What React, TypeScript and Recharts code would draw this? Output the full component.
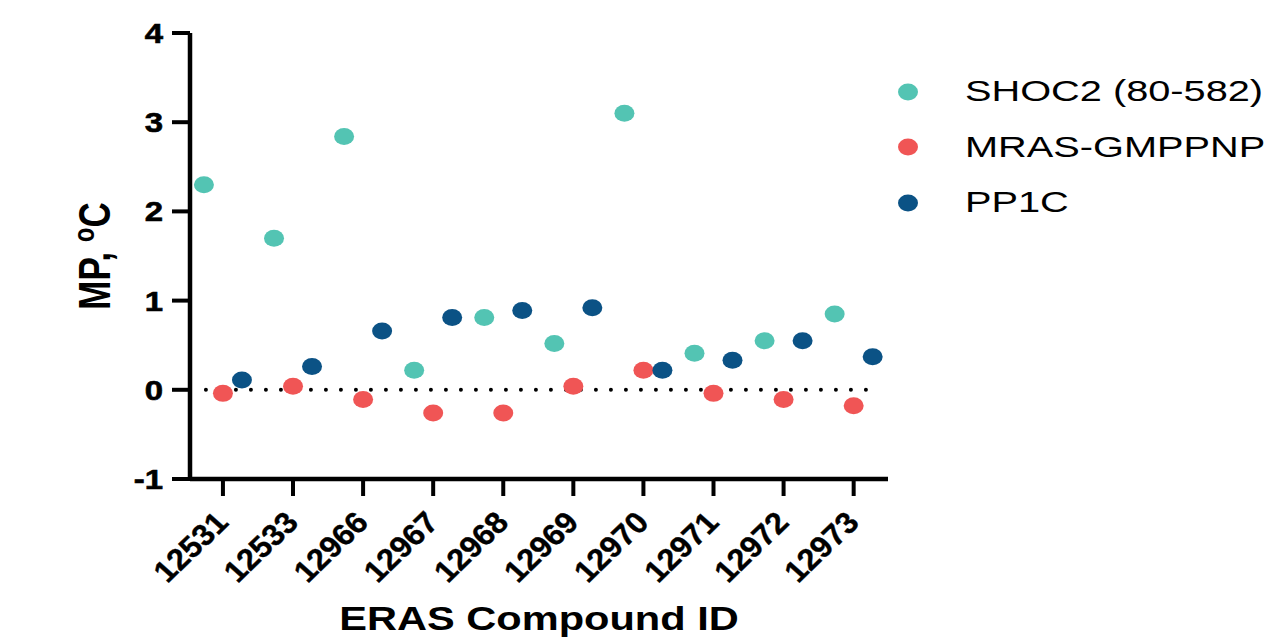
import { ScatterChart, Scatter, XAxis, YAxis, ReferenceLine } from 'recharts';

const compounds = ['12531', '12533', '12966', '12967', '12968', '12969', '12970', '12971', '12972', '12973'];
const seriesNames = ['SHOC2 (80-582)', 'MRAS-GMPPNP', 'PP1C'];
const seriesColors = ['#53C4B3', '#F05555', '#0B5285'];
const shoc2 = [2.3, 1.7, 2.84, 0.22, 0.81, 0.52, 3.1, 0.41, 0.55, 0.85];
const mras = [-0.04, 0.04, -0.11, -0.26, -0.26, 0.04, 0.22, -0.04, -0.11, -0.18];
const pp1c = [0.11, 0.26, 0.66, 0.81, 0.89, 0.92, 0.22, 0.33, 0.55, 0.37];
const yTicks = [-1, 0, 1, 2, 3, 4];

const FONT = '"Liberation Sans", Arial, sans-serif';

const toPoints = (vals: number[]) => vals.map((v, i) => ({ x: i, y: v }));

// dodge the three series sideways inside each compound slot
const dot = (dx: number) => (props: any) => (
  <ellipse cx={props.cx + dx} cy={props.cy} rx={10} ry={8.5} fill={props.fill} />
);

const YTick = ({ x, y, payload }: any) => (
  <text
    transform={`translate(${x},${y}) scale(1.22,1)`}
    textAnchor="end"
    dy={10}
    fontFamily={FONT}
    fontWeight="bold"
    fontSize={27}
    fill="#000"
    stroke="#000"
    strokeWidth={0.6}
  >
    {payload.value}
  </text>
);

const XTick = ({ x, y, payload }: any) => (
  <text
    transform={`translate(${x + 7},${y + 26}) scale(1.08,1) rotate(-46)`}
    textAnchor="end"
    fontFamily={FONT}
    fontWeight="bold"
    fontSize={30}
    fill="#000"
    stroke="#000"
    strokeWidth={0.4}
  >
    {compounds[payload.value]}
  </text>
);

function LegendBox() {
  return (
    <div style={{ position: 'absolute', left: 895, top: 64 }}>
      {seriesNames.map((name, i) => (
        <div key={name} style={{ display: 'flex', alignItems: 'center', height: 55.5 }}>
          <svg width={22} height={18} style={{ marginLeft: 2 }}>
            <ellipse cx={11} cy={9} rx={10} ry={8.5} fill={seriesColors[i]} />
          </svg>
          <span
            style={{
              marginLeft: 46,
              fontFamily: FONT,
              fontSize: 29,
              color: '#000',
              whiteSpace: 'nowrap',
              display: 'inline-block',
              transform: 'scaleX(1.37)',
              transformOrigin: 'left center',
            }}
          >
            {name}
          </span>
        </div>
      ))}
    </div>
  );
}

export default function App() {
  return (
    <div style={{ position: 'absolute', left: 0, top: 0, width: 1279, height: 638, background: '#fff', overflow: 'hidden' }}>
      <ScatterChart width={1279} height={638} margin={{ top: 33, right: 391, bottom: 0, left: 0 }}>
        <XAxis
          type="number"
          dataKey="x"
          domain={[-0.47, 9.49]}
          ticks={compounds.map((_, i) => i)}
          interval={0}
          height={159}
          axisLine={{ stroke: '#000', strokeWidth: 4.5 }}
          tickLine={{ stroke: '#000', strokeWidth: 4 }}
          tickSize={17}
          tick={<XTick />}
          label={{
            content: () => (
              <text
                transform="translate(539,630) scale(1.26,1)"
                textAnchor="middle"
                fontFamily={FONT}
                fontWeight="bold"
                fontSize={33}
                fill="#000"
              >
                ERAS Compound ID
              </text>
            ),
          }}
        />
        <YAxis
          type="number"
          dataKey="y"
          domain={[-1, 4]}
          ticks={yTicks}
          width={190}
          axisLine={{ stroke: '#000', strokeWidth: 4.5 }}
          tickLine={{ stroke: '#000', strokeWidth: 4 }}
          tickSize={18}
          tickMargin={9}
          tick={<YTick />}
          label={{
            content: () => (
              <text
                transform="translate(110,256) scale(1.25,1) rotate(-90)"
                textAnchor="middle"
                fontFamily={FONT}
                fontWeight="bold"
                fontSize={35}
                fill="#000"
              >
                <tspan>MP, </tspan>
                <tspan fontSize={24} dy={-13}>o</tspan>
                <tspan dy={13}>C</tspan>
              </text>
            ),
          }}
        />
        <ReferenceLine
          segment={[{ x: -0.243, y: 0 }, { x: 9.36, y: 0 }]}
          stroke="#000"
          strokeWidth={4}
          strokeDasharray="0 15"
          strokeLinecap="round"
        />
        <Scatter name={seriesNames[0]} data={toPoints(shoc2)} fill={seriesColors[0]} shape={dot(-19)} isAnimationActive={false} />
        <Scatter name={seriesNames[1]} data={toPoints(mras)} fill={seriesColors[1]} shape={dot(0)} isAnimationActive={false} />
        <Scatter name={seriesNames[2]} data={toPoints(pp1c)} fill={seriesColors[2]} shape={dot(19)} isAnimationActive={false} />
      </ScatterChart>
      <LegendBox />
    </div>
  );
}
